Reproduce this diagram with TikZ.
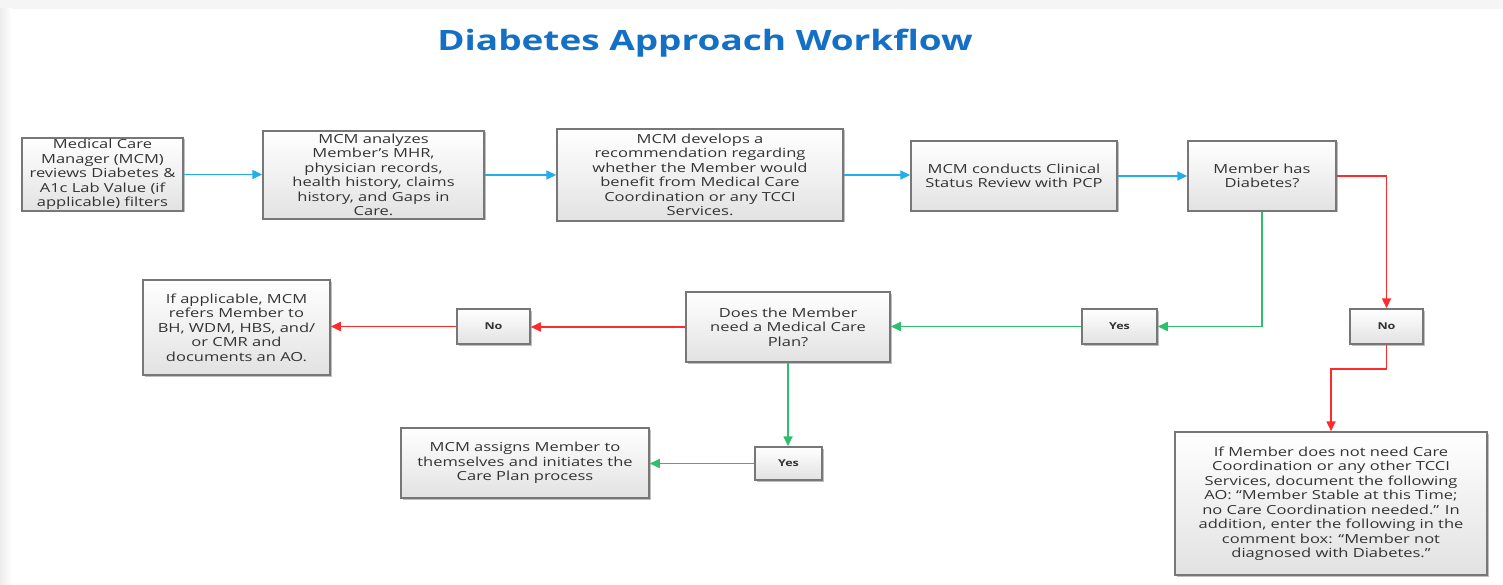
\documentclass[tikz,border=0pt]{standalone}
\usepackage{fontspec}
\setmainfont{Open Sans}[FakeStretch=1.32]
\usetikzlibrary{arrows.meta,shadows}
\definecolor{flowblue}{HTML}{22AEEA}
\definecolor{flowgreen}{HTML}{2EBF6E}
\definecolor{flowred}{HTML}{FF2A2A}
\definecolor{boxline}{HTML}{777777}
\definecolor{boxbot}{HTML}{E2E2E2}
\definecolor{textc}{HTML}{333333}
\definecolor{titleblue}{HTML}{1470C4}
\begin{document}
\begin{tikzpicture}[x=1pt,y=-1pt,
  box/.style={draw=boxline, line width=1.5pt, top color=white, bottom color=boxbot,
    align=center, text=textc, inner sep=0pt,
    font=\fontsize{12.5}{14.5}\selectfont,
    drop shadow={shadow xshift=1.5pt,shadow yshift=-1.5pt,opacity=0.25,fill=black}},
  lab/.style={box, font=\bfseries\fontsize{9.5}{11}\selectfont},
  arr/.style={line width=1.7pt, -{Triangle[length=10pt,width=9pt]}},
  bluearr/.style={arr, draw=flowblue},
  greenarr/.style={arr, draw=flowgreen},
  redarr/.style={arr, draw=flowred}]
\useasboundingbox (0,0) rectangle (1503,585);
\fill[gray!8] (0,0) rectangle (1503,585);
\shade[left color=gray!14, right color=white] (0,9) rectangle (12,585);
\fill[white] (12,9) rectangle (1503,585);

\node[text=titleblue, font=\bfseries\fontsize{28}{32}\selectfont] (title) at (705,43) {Diabetes Approach Workflow};

\node[box, minimum width=161pt, minimum height=73pt] (b1) at (102.5,174.5)
  {Medical Care\\Manager (MCM)\\reviews Diabetes \&\\A1c Lab Value (if\\applicable) filters};
\node[box, minimum width=221pt, minimum height=88pt] (b2) at (373.5,175)
  {MCM analyzes\\Member’s MHR,\\physician records,\\health history, claims\\history, and Gaps in\\Care.};
\node[box, minimum width=286pt, minimum height=92pt] (b3) at (700,175)
  {MCM develops a\\recommendation regarding\\whether the Member would\\benefit from Medical Care\\Coordination or any TCCI\\Services.};
\node[box, minimum width=206pt, minimum height=70pt] (b4) at (1014,176)
  {MCM conducts Clinical\\Status Review with PCP};
\node[box, minimum width=148pt, minimum height=70pt] (b5) at (1262,176)
  {Member has\\Diabetes?};
\node[lab, minimum width=73pt, minimum height=35pt] (no1) at (1386.5,326.5) {No};
\node[box, minimum width=312pt, minimum height=143pt] (big) at (1331,503.5)
  {If Member does not need Care\\Coordination or any other TCCI\\Services, document the following\\AO: “Member Stable at this Time;\\no Care Coordination needed.” In\\addition, enter the following in the\\comment box: “Member not\\diagnosed with Diabetes.”};
\node[lab, minimum width=75pt, minimum height=35pt] (yes1) at (1119.5,326.5) {Yes};
\node[box, minimum width=204pt, minimum height=70pt] (dec) at (788,327)
  {Does the Member\\need a Medical Care\\Plan?};
\node[lab, minimum width=73pt, minimum height=35pt] (no2) at (493.5,326.5) {No};
\node[box, minimum width=187pt, minimum height=95pt] (bl) at (236.5,327.5)
  {If applicable, MCM\\refers Member to\\BH, WDM, HBS, and/\\or CMR and\\documents an AO.};
\node[lab, minimum width=67pt, minimum height=33pt] (yes2) at (788.5,463.5) {Yes};
\node[box, minimum width=248pt, minimum height=70pt] (asg) at (525,463)
  {MCM assigns Member to\\themselves and initiates the\\Care Plan process};

\draw[bluearr] (b1.east) -- (b1.east -| b2.west);
\draw[bluearr] (b2.east) -- (b2.east -| b3.west);
\draw[bluearr] (b3.east) -- (b3.east -| b4.west);
\draw[bluearr] (b4.east) -- (b5.west);
\draw[redarr] (b5.east) -| (no1.north);
\draw[redarr] (no1.south) -- ++(0,24) -| (big.north);
\draw[greenarr] (b5.south) |- (yes1.east);
\draw[greenarr] (yes1.west) -- (yes1.west -| dec.east);
\draw[redarr] (dec.west) -- (dec.west -| no2.east);
\draw[redarr] (no2.west) -- (no2.west -| bl.east);
\draw[greenarr] (dec.south) -- (dec.south |- yes2.north);
\draw[greenarr] (yes2.west) -- (yes2.west -| asg.east);
\end{tikzpicture}
\end{document}
